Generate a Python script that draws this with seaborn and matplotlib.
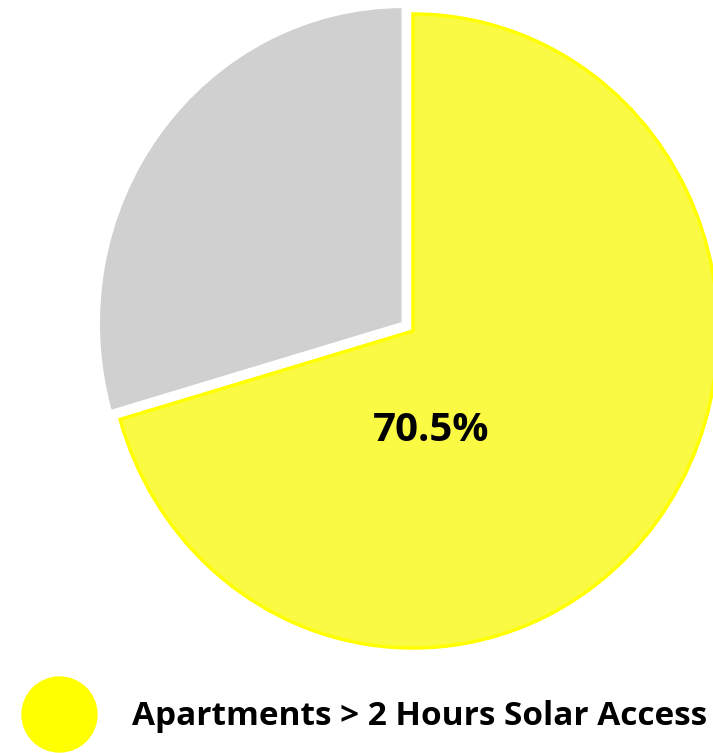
import matplotlib
matplotlib.use("Agg")
import matplotlib.pyplot as plt
import seaborn as sns
from matplotlib.lines import Line2D

sns.set_theme(style="white")
plt.rcParams['font.family'] = ['Open Sans', 'DejaVu Sans']

# data
labels = ['Apartments > 2 Hours Solar Access', 'Apartments < 2 Hours Solar Access']
shares = [70.5, 29.5]
fill_colors = ['#FAFA45', '#D0D0D0']
edge_colors = ['#FFFF00', '#FFFFFF']
legend_label = labels[0]

fig = plt.figure(figsize=(7.13, 7.53), dpi=100)
ax = fig.add_axes([0, 0, 1, 1])

wedges, _ = ax.pie(shares, startangle=90, counterclock=False,
                   colors=fill_colors, explode=[0, 0.04],
                   wedgeprops=dict(linewidth=2.5))
for w, ec in zip(wedges, edge_colors):
    w.set_edgecolor(ec)

# slightly taller than wide, as in the reference
ax.set_aspect('auto')
ax.set_xlim(-413 / 305, 300 / 305)
ax.set_ylim((331 - 753) / 317, 331 / 317)
ax.axis('off')

ax.text(0.06, -0.315, f"{shares[0]}%", ha='center', va='center',
        fontsize=29, fontweight='bold', color='black')

handle = Line2D([], [], marker='o', linestyle='none', markersize=54,
                markerfacecolor='#FFFF00', markeredgecolor='#FFFF00')
leg = fig.legend([handle], [legend_label], loc='center left',
                 bbox_to_anchor=(0.005, 0.048), frameon=False,
                 handlelength=1.5, handletextpad=1.45,
                 prop=dict(weight='bold', size=24))
for t in leg.get_texts():
    t.set_color('black')

fig.savefig('out.png', dpi=100)
